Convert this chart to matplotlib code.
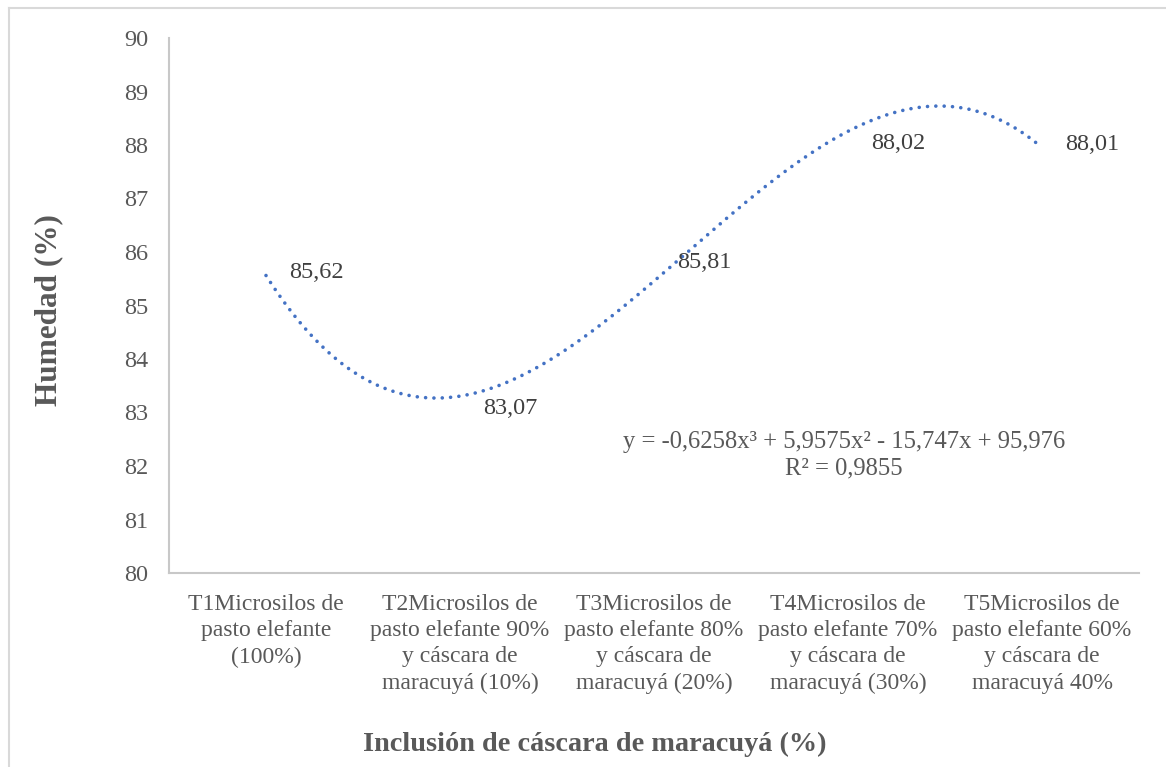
import numpy as np
import matplotlib
matplotlib.use("Agg")
import matplotlib.pyplot as plt
from matplotlib.lines import Line2D

categories = [
    "T1Microsilos de\npasto elefante\n(100%)",
    "T2Microsilos de\npasto elefante 90%\ny cáscara de\nmaracuyá (10%)",
    "T3Microsilos de\npasto elefante 80%\ny cáscara de\nmaracuyá (20%)",
    "T4Microsilos de\npasto elefante 70%\ny cáscara de\nmaracuyá (30%)",
    "T5Microsilos de\npasto elefante 60%\ny cáscara de\nmaracuyá 40%",
]
humedad = [85.62, 83.07, 85.81, 88.02, 88.01]
value_labels = ["85,62", "83,07", "85,81", "88,02", "88,01"]
y_ticks = [80, 81, 82, 83, 84, 85, 86, 87, 88, 89, 90]
equation_text = "y = -0,6258x³ + 5,9575x² - 15,747x + 95,976\nR² = 0,9855"

plt.rcParams['font.family'] = ['Liberation Serif', 'DejaVu Serif']

W, H = 1166, 767
fig = plt.figure(figsize=(W / 100, H / 100), dpi=100)
ax = fig.add_axes([169 / W, 1 - 573 / H, (1139 - 169) / W, (573 - 38) / H])

x = np.arange(1, len(humedad) + 1)
coef = np.polyfit(x, humedad, 3)
xs = np.linspace(1, 5, 400)
ax.plot(xs, np.polyval(coef, xs), color="#4472C4", lw=2.6,
        linestyle=(0, (0.01, 2.3)), dash_capstyle="round")

for xi, yi, lab in zip(x, humedad, value_labels):
    ax.annotate(lab, (xi, yi), xytext=(23, 0), textcoords="offset pixels",
                ha="left", va="center", fontsize=17.5, color="#404040")

ax.text(3.98, 82.2, equation_text, ha="center", va="center", fontsize=17.7,
        color="#595959", linespacing=1.3)

ax.set_xlim(0.5, 5.5)
ax.set_ylim(80, 90)
ax.set_yticks(y_ticks)
ax.set_xticks(x)
ax.set_xticklabels(categories, fontsize=17, color="#595959", linespacing=1.33)
ax.tick_params(axis="y", labelsize=17.5, labelcolor="#595959", length=0, pad=15)
ax.tick_params(axis="x", length=0, pad=15)

for s in ["top", "right"]:
    ax.spines[s].set_visible(False)
for s in ["left", "bottom"]:
    ax.spines[s].set_color("#C8C8C8")
    ax.spines[s].set_linewidth(1.5)

fig.text(49 / W, 1 - 310 / H, "Humedad (%)", rotation=90, ha="center", va="center",
         fontsize=22.5, fontweight="bold", color="#595959")
fig.text(595 / W, 1 - 744 / H, "Inclusión de cáscara de maracuyá (%)", ha="center",
         va="center", fontsize=20.3, fontweight="bold", color="#595959")

# chart area border (left and top visible)
fig.add_artist(Line2D([8.5 / W, 8.5 / W], [0, 1 - 7.5 / H], transform=fig.transFigure,
                      color="#D9D9D9", lw=1.5))
fig.add_artist(Line2D([8.5 / W, 1], [1 - 7.5 / H, 1 - 7.5 / H], transform=fig.transFigure,
                      color="#D9D9D9", lw=1.5))

fig.savefig("out.png", dpi=100, facecolor="white")
